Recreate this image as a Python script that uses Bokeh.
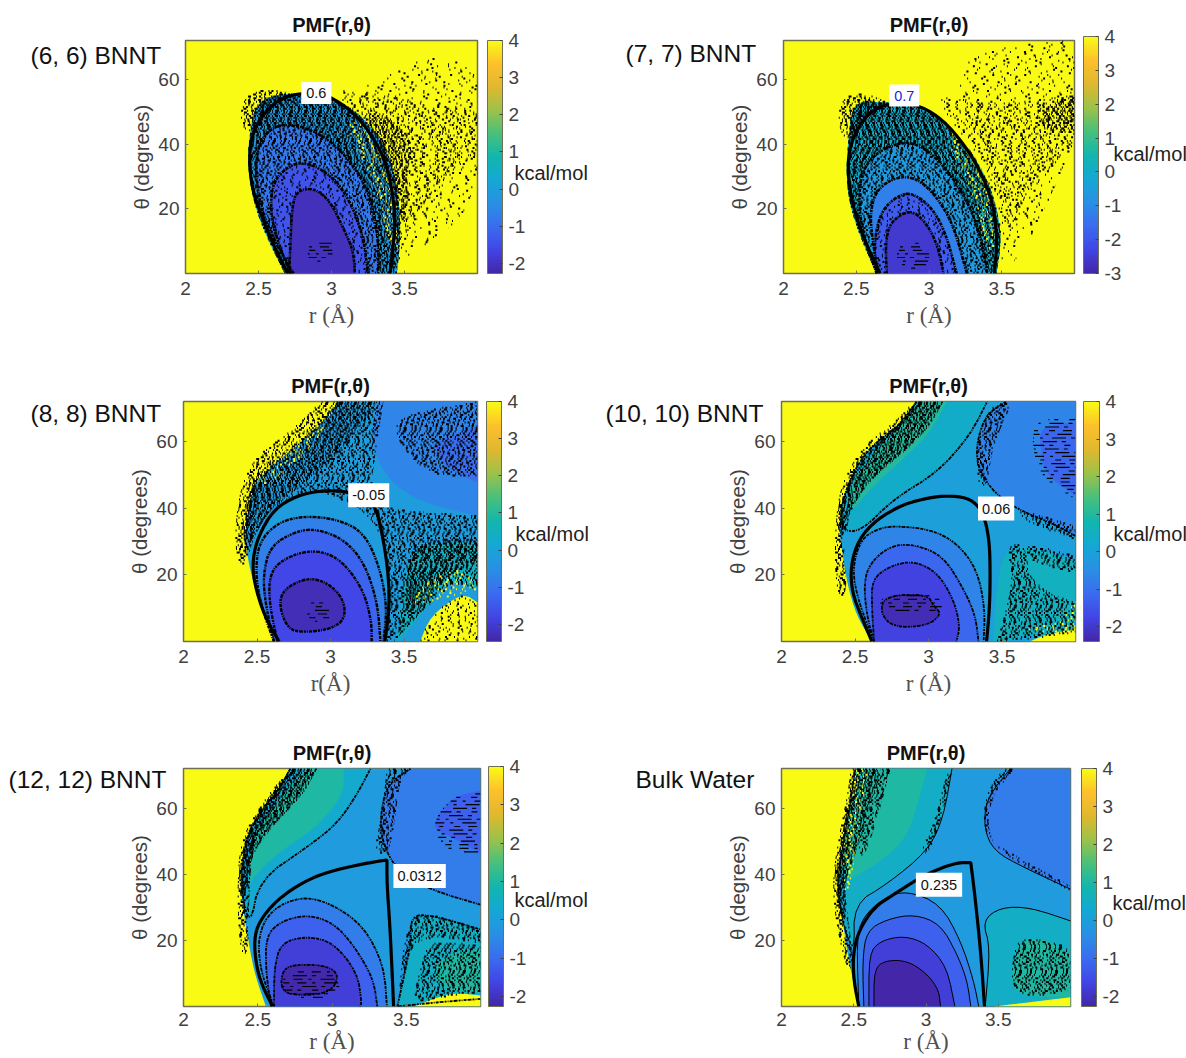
from bokeh.embed import file_html
from bokeh.resources import INLINE
from bokeh.plotting import figure
from bokeh.layouts import column, row
from bokeh.models import (ColorBar, ColumnDataSource, FixedTicker, Label, LinearColorMapper,
                          Range1d)
from bokeh.core.properties import value
from bokeh.transform import transform
import numpy as np

# ---------- shared ticks ----------
R_TICKS = [2, 2.5, 3, 3.5]
T_TICKS = [20, 40, 60]
CB_TICKS = [-3, -2, -1, 0, 1, 2, 3, 4]

# ---------- page texts outside the plot frames ----------
PANEL_NAMES = ["(6, 6) BNNT", "(7, 7) BNNT", "(8, 8) BNNT", "(10, 10) BNNT", "(12, 12) BNNT", "Bulk Water"]
NAME_X = [30, 625, 30, 605, 8, 635]
NAME_Y = [55, 53, 413, 413, 779, 779]
UNIT_X = [514, 1113, 515, 1113, 514, 1112]
UNIT_Y = [172, 153, 533, 533, 899, 902]

# ---------- panel 1: (6, 6) BNNT ----------
P1_LEVELS = [-0.1, -0.8, -1.4, -2.05]
P1_NO_LINE = [0]
P1_R = [[2.68, 2.58, 2.50, 2.445, 2.425, 2.44, 2.47, 2.57, 2.764, 2.99, 3.174, 3.334, 3.425, 3.47, 3.47, 3.448],
        [2.74, 2.60, 2.51, 2.48, 2.50, 2.60, 2.76, 2.97, 3.15, 3.27, 3.32, 3.32],
        [2.72, 2.63, 2.58, 2.60, 2.72, 2.83, 2.99, 3.13, 3.22, 3.25],
        [2.71, 2.72, 2.73, 2.76, 2.88, 2.99, 3.08, 3.15, 3.16]]
P1_T = [[0, 9, 17.3, 26.5, 35.8, 43, 51.2, 54.8, 55.9, 54.3, 50.2, 42, 32.7, 19.3, 9, 0],
        [0, 11, 21, 31.7, 40, 45.6, 46, 42, 33.7, 23.5, 11, 0],
        [0, 10, 19.3, 28.6, 33.7, 34.3, 30.7, 22.4, 11, 0],
        [0, 11, 20.4, 25.5, 26.5, 22.4, 14.2, 7, 0]]
P1_CONT_R = [2.70, 2.60, 2.525, 2.455, 2.435, 2.455, 2.525, 2.63, 2.76, 2.90, 3.015, 3.17, 3.29, 3.38, 3.435, 3.43, 3.40]
P1_CONT_T = [0, 9, 17.2, 26.4, 35.6, 42.8, 48.9, 53.5, 55.6, 55.6, 54.2, 48.9, 41.8, 33.6, 20.3, 11, 0]
P1_SPECK = [
    ("rare", "black", [([3.11, 3.45, 3.79, 4, 4, 3.90, 3.68, 3.52, 3.45, 3.42], [54.3, 63.6, 67.7, 61.5, 29.6, 17.3, 10, 3.9, 2.9, 29.6])]),
    ("sparse", "black", [([2.99, 3.33, 3.68, 4, 4, 3.79, 3.63, 3.49, 3.45, 3.42, 3.22], [57.4, 55.4, 52.3, 50.2, 35.8, 29.6, 19.3, 11.1, 9, 29.6, 47.1])]),
    ("medium", "black", [([3.17, 3.45, 3.56, 3.52, 3.52, 3.45, 3.42, 3.33], [51.2, 47.1, 39.9, 29.6, 17.3, 15.2, 32.7, 42])]),
    ("medium", "black", [([2.50, 2.40, 2.37, 2.42, 2.52, 2.68, 2.72, 2.55], [44, 44, 50, 55, 57, 56.5, 54, 50])]),
    ("dense", "black", [0, 1]),
    ("medium", "black", [1, 2]),
    ("sparse", "black", [2, 3]),
    ("streak", "black", [([2.83, 3.0, 3.02, 2.85], [3.5, 3.5, 10.5, 10.5])]),
    ("sparse", "#f9fb15", [([3.17, 3.33, 3.44, 3.47, 3.42, 3.30, 3.1], [50, 40, 25, 10, 5, 28, 44])]),
]

# ---------- panel 2: (7, 7) BNNT ----------
P2_LEVELS = [0.0, -0.6, -1.2, -1.9, -2.55]
P2_NO_LINE = [0]
P2_R = [[2.64, 2.53, 2.45, 2.43, 2.445, 2.47, 2.56, 2.64, 2.82, 3.0, 3.235, 3.37, 3.46, 3.50, 3.465],
        [2.64, 2.55, 2.515, 2.54, 2.66, 2.87, 3.05, 3.235, 3.35, 3.40],
        [2.65, 2.61, 2.595, 2.64, 2.78, 2.915, 3.05, 3.17, 3.26],
        [2.64, 2.62, 2.665, 2.78, 2.89, 3.03, 3.12, 3.19],
        [2.71, 2.70, 2.73, 2.87, 2.98, 3.06, 3.10]]
P2_T = [[0, 10.8, 21.9, 32, 41.2, 51.4, 53.4, 52.9, 52.9, 50.4, 41.2, 32, 21.9, 10.8, 0],
        [0, 11.8, 21.9, 32, 38.2, 41.2, 36.1, 25, 12.8, 0],
        [0, 10.8, 18.9, 26, 30, 29.5, 24, 14.8, 0],
        [0, 8.7, 18.9, 24, 25, 19.9, 11.8, 0],
        [0, 8.7, 15.8, 19.9, 15.8, 8.7, 0]]
P2_CONT_R = [2.664, 2.55, 2.47, 2.44, 2.46, 2.54, 2.64, 2.78, 2.94, 3.10, 3.235, 3.35, 3.44, 3.47, 3.45]
P2_CONT_T = [0, 10.8, 21.9, 32, 40.2, 47.3, 51.4, 52.7, 51.9, 47.3, 40.2, 32, 21.9, 10.8, 0]
P2_SPECK = [
    ("rare", "black", [([3.19, 3.69, 4, 4, 3.76, 3.58, 3.49, 3.46, 3.235], [65.6, 71.7, 72, 41.2, 15.8, 2.6, 2.6, 21.9, 51.4])]),
    ("sparse", "black", [([3.01, 3.46, 4, 4, 3.69, 3.58, 3.5, 3.44, 3.235], [56.4, 51.4, 55.4, 39.2, 27, 12.8, 16.9, 31, 42.2])]),
    ("medium", "black", [([3.74, 4, 4, 3.785], [50.4, 55.4, 43.2, 44.3])]),
    ("medium", "black", [([2.50, 2.40, 2.37, 2.43, 2.55, 2.68, 2.72, 2.55], [42, 42, 50, 55, 55.5, 54, 52, 48])]),
    ("dense", "black", [0, 1]),
    ("medium", "black", [1, 2]),
    ("sparse", "black", [3, 4]),
    ("streak", "black", [([2.78, 3.0, 3.0, 2.78], [1.5, 1.5, 9.5, 9.5])]),
    ("sparse", "#f9fb15", [([3.2, 3.35, 3.46, 3.48, 3.42, 3.30, 3.1], [44, 34, 22, 8, 4, 26, 42])]),
]

# ---------- panel 3: (8, 8) BNNT ----------
P3_LEVELS = [-0.2, 0.45, -0.7, -1.1, 4.0, -0.8, -1.3, -1.8, -2.3]
P3_NO_LINE = [0, 1, 2, 3, 4]
P3_R = [[2.65, 2.55, 2.46, 2.42, 2.43, 2.50, 2.72, 2.92, 3.05, 4, 4, 3.60],
        [3.45, 3.52, 3.68, 4, 4, 3.81, 3.68, 3.50],
        [3.32, 4, 4, 3.61, 3.36, 3.27],
        [3.68, 4, 4, 3.79],
        [3.61, 3.68, 3.90, 4, 4],
        [2.615, 2.535, 2.49, 2.51, 2.64, 2.82, 3.045, 3.23, 3.34, 3.385, 3.36],
        [2.615, 2.56, 2.54, 2.59, 2.77, 2.91, 3.09, 3.23, 3.32, 3.34],
        [2.64, 2.59, 2.58, 2.64, 2.82, 2.98, 3.11, 3.23, 3.28, 3.28],
        [2.71, 2.65, 2.68, 2.84, 2.98, 3.09, 3.10, 3.0, 2.82]]
P3_T = [[0, 7.7, 19.7, 29.7, 37.7, 49.7, 56.7, 64.7, 72, 72, 0, 0],
        [0, 25.7, 29.7, 29.7, 15.7, 18.7, 11.7, 1.7],
        [72, 72, 37.7, 41.7, 49.7, 61.7],
        [59.7, 64.7, 47.7, 51.7],
        [0, 7.7, 14.7, 11.7, 0],
        [0, 9.7, 19.7, 29.7, 35.7, 37.7, 36.7, 32.7, 21.7, 9.7, 0],
        [0, 10.7, 19.7, 28.7, 33.2, 33.7, 30.7, 23.7, 11.7, 0],
        [0, 9.7, 18.7, 23.7, 27.2, 26.7, 22.7, 14.7, 5.7, 0],
        [3.7, 10.7, 15.7, 19.2, 17.7, 12.7, 6.7, 3.7, 2.7]]
P3_CONT_R = [2.65, 2.55, 2.48, 2.47, 2.51, 2.615, 2.77, 2.92, 3.11, 3.3, 3.36, 3.395, 3.40, 3.37]
P3_CONT_T = [0, 7.7, 17.7, 24.7, 31.7, 39.7, 43.7, 45.2, 45.2, 42, 30.7, 19.7, 9.7, 0]
P3_SPECK = [
    ("medium", "black", [([2.59, 2.73, 3.0, 3.20, 3.32, 3.36, 3.27, 3.32, 4, 4, 3.79, 3.61, 3.45, 3.385, 3.40, 3.36, 3.23, 2.93, 2.77],
                          [39.7, 44.7, 53.7, 64.7, 72, 72, 46.7, 39.7, 37.7, 23.7, 19.7, 9.7, 1.7, 0, 19.7, 30.7, 39.7, 45.2, 43.7])]),
    ("dense", "black", [([2.40, 2.46, 2.72, 2.92, 3.05, 3.32, 3.20, 3.0, 2.73, 2.59, 2.48, 2.43],
                         [32.7, 49.7, 57.7, 65.7, 72, 72, 64.7, 53.7, 44.7, 39.7, 31.7, 23.7])]),
    ("medium", "black", [([2.34, 2.38, 2.50, 2.70, 2.85, 2.93, 3.1, 2.82, 2.56, 2.44, 2.42], [28, 46, 56, 62, 68, 72, 72, 62, 52, 34, 20])]),
    ("medium", "black", [([3.43, 3.52, 3.52, 3.68, 4, 4, 3.86, 3.68], [0, 9.7, 26.7, 30.7, 30.7, 15.7, 17.7, 11.7])]),
    ("medium", "black", [([3.45, 4, 4, 3.68, 3.45], [67.7, 72, 49.7, 49.7, 59.7])]),
    ("sparse", "black", [([3.61, 3.68, 3.90, 4, 4], [0, 7.7, 14.7, 11.7, 0])]),
    ("sparse", "#f9fb15", [([3.52, 3.68, 3.90, 4, 3.90], [9.7, 19.7, 22.7, 15.7, 14.7])]),
    ("sparse", "#f9fb15", [([2.46, 2.86, 3.05, 2.91, 2.55], [49.7, 65.7, 72, 59.7, 45.7])]),
    ("streak", "black", [([2.84, 3.0, 3.0, 2.84], [6, 6, 12, 12])]),
]

# ---------- panel 4: (10, 10) BNNT ----------
P4_LEVELS = [-0.1, 0.35, 1.0, -0.7, -1.2, 0.5, 4.0, -0.7, -1.2, -1.8, -2.25]
P4_NO_LINE = [0, 2, 4, 5, 6]
P4_R = [[2.615, 2.51, 2.445, 2.41, 2.39, 2.43, 2.58, 2.80, 2.92, 4, 4],
        [2.535, 2.76, 3.06, 3.28, 3.40, 2.92, 2.80, 2.58, 2.43, 2.39],
        [2.455, 2.455, 2.65, 2.83, 2.94, 3.125, 3.01, 2.85, 2.60],
        [3.53, 4, 4, 3.83, 3.60, 3.42, 3.31, 3.375],
        [3.76, 4, 4, 3.80, 3.76],
        [3.44, 3.465, 3.53, 3.76, 4, 4, 3.69, 3.51],
        [3.69, 3.80, 4, 4],
        [2.63, 2.525, 2.48, 2.54, 2.65, 2.76, 3.01, 3.19, 3.33, 3.385, 3.375],
        [2.63, 2.58, 2.56, 2.605, 2.74, 2.90, 3.10, 3.24, 3.32, 3.34],
        [2.63, 2.615, 2.615, 2.74, 2.90, 3.06, 3.17, 3.215, 3.19],
        [2.67, 2.705, 2.99, 3.035, 3.09, 2.99, 2.76]]
P4_T = [[0, 7.7, 17.7, 27.7, 33.7, 45.7, 57.7, 64.7, 72, 72, 0],
        [32.7, 42.7, 50.7, 61.7, 72, 72, 64.7, 57.7, 45.7, 33.7],
        [37.7, 46.7, 57.7, 65.7, 72, 72, 62.7, 55.7, 45.7],
        [72, 72, 31.7, 35.7, 39.7, 45.7, 54.7, 67.7],
        [64.7, 65.7, 43.7, 49.7, 57.7],
        [0, 17.7, 28.7, 27.7, 23.7, 1.7, 1.7, 0],
        [0, 2.2, 3.7, 0],
        [0, 11.7, 21.7, 30.7, 33.7, 34.7, 33.7, 29.7, 21.7, 9.7, 0],
        [0, 7.7, 17.7, 23.7, 28.7, 29.2, 25.7, 15.7, 7.7, 0],
        [0, 9.7, 18.7, 22.7, 24.2, 20.7, 12.7, 4.7, 0],
        [8.7, 13.7, 14.2, 10.7, 8.2, 4.7, 4.2]]
P4_CONT_R = [2.615, 2.55, 2.48, 2.47, 2.525, 2.65, 2.83, 3.01, 3.125, 3.26, 3.34, 3.385, 3.415, 3.42, 3.415, 3.395]
P4_CONT_T = [0, 6.7, 14.7, 22.7, 30.7, 36.7, 41.2, 43.2, 43.7, 43.2, 40.7, 36.7, 29.7, 19.7, 9.7, 0]
P4_SPECK = [
    ("dense", "black", [([2.37, 2.42, 2.605, 2.81, 2.92, 3.10, 3.01, 2.83, 2.605, 2.47, 2.435],
                         [33.7, 45.7, 57.7, 65.7, 72, 72, 64.7, 56.7, 48.7, 39.7, 31.7])]),
    ("medium", "black", [([2.37, 2.36, 2.40, 2.56, 2.78, 2.90, 2.98, 2.80, 2.58, 2.43, 2.42, 2.45], [14, 33, 47, 59, 66, 72, 72, 64, 56, 44, 30, 14])]),
    ("medium", "black", [([3.33, 3.44, 3.58, 3.44, 3.40, 3.33], [61.7, 71.7, 71.7, 59.7, 46.7, 46.7])]),
    ("medium", "black", [([3.58, 4, 4, 3.69], [40.2, 34.7, 30.7, 35.2])]),
    ("medium", "black", [([3.465, 3.58, 3.53, 3.65, 3.69, 3.80, 4, 4, 3.69], [0, 17.7, 28.7, 29.7, 19.7, 14.7, 11.7, 2.7, 0.7])]),
    ("medium", "black", [([3.65, 4, 4, 3.69], [29.7, 25.7, 20.7, 23.7])]),
    ("streak", "black", [([3.69, 4, 4, 3.74], [66.7, 66.7, 42.7, 49.7])]),
    ("streak", "black", [([2.67, 3.09, 3.09, 2.67], [8.7, 8.2, 14.2, 14.2])]),
    ("sparse", "#f9fb15", [([3.6, 4, 4, 3.9], [3, 3, 12, 6])]),
]

# ---------- panel 5: (12, 12) BNNT ----------
P5_LEVELS = [-0.1, 0.35, 1.0, -0.7, -1.2, 0.5, 1.0, 4.0, -0.7, -1.2, -1.75, -2.2]
P5_NO_LINE = [0, 2, 4, 6, 7]
P5_R = [[2.555, 2.475, 2.42, 2.385, 2.41, 2.54, 2.65, 2.72, 4, 4],
        [2.45, 2.51, 2.835, 3.035, 3.17, 3.26, 2.72, 2.65, 2.54, 2.41, 2.385],
        [2.44, 2.44, 2.59, 2.77, 2.83, 3.08, 3.08, 2.90, 2.63, 2.475],
        [3.53, 4, 4, 3.66, 3.44, 3.35, 3.32, 3.37],
        [3.80, 4, 4, 3.80, 3.66],
        [3.44, 3.53, 3.53, 3.66, 4, 4, 3.71],
        [3.66, 3.80, 4, 4, 3.78],
        [3.55, 3.80, 4, 4],
        [2.61, 2.52, 2.50, 2.59, 2.79, 2.99, 3.215, 3.35, 3.37],
        [2.59, 2.555, 2.555, 2.655, 2.835, 3.01, 3.15, 3.28, 3.305],
        [2.61, 2.61, 2.655, 2.835, 3.01, 3.17, 3.20, 3.19],
        [2.655, 2.665, 2.77, 2.97, 3.05, 2.99, 2.81]]
P5_T = [[0, 10.3, 24.3, 34.3, 50.3, 60.3, 66.3, 72, 72, 0],
        [24.3, 38.3, 48.3, 55.3, 64.3, 72, 72, 66.3, 60.3, 50.3, 34.3],
        [36.3, 50.3, 59.3, 69.3, 72, 72, 64.3, 54.3, 46.3, 39.3],
        [72, 72, 30.8, 35.3, 41.3, 48.3, 56.3, 67.3],
        [63.3, 65.3, 46.3, 51.3, 54.3],
        [0, 18.3, 27.3, 27.8, 23.3, 2.3, 1.3],
        [10.3, 16.3, 17.3, 4.3, 4.3],
        [0, 4.3, 3.3, 0],
        [0, 10.3, 21.3, 29.3, 33.3, 31.3, 24.3, 12.3, 0],
        [0, 10.3, 21.3, 25.8, 27.8, 25.3, 18.3, 8.3, 0],
        [0, 11.3, 19.3, 21.3, 19.3, 10.3, 1.3, 0],
        [4.3, 11.3, 12.8, 12.3, 9.3, 4.3, 3.3]]
P5_CONT_R = [2.60, 2.53, 2.49, 2.475, 2.51, 2.63, 2.81, 2.98, 3.17, 3.33, 3.37, 3.37, 3.37, 3.39, 3.405, 3.415]
P5_CONT_T = [0, 6.3, 12.3, 20.3, 25.8, 32.3, 37.8, 40.8, 42.8, 44.1, 44.3, 44.3, 37.3, 24.3, 10.3, 0]
P5_SPECK = [
    ("dense", "black", [([2.365, 2.40, 2.54, 2.72, 2.90, 2.81, 2.59, 2.45, 2.42],
                         [34.3, 50.3, 61.3, 72, 72, 64.3, 54.3, 45.3, 32.3])]),
    ("medium", "black", [([2.38, 2.36, 2.38, 2.52, 2.66, 2.76, 2.62, 2.47, 2.44, 2.44], [16, 34, 50, 61, 69, 72, 62, 50, 34, 16])]),
    ("medium", "black", [([3.33, 3.28, 3.37, 3.42, 3.46, 3.57, 3.37], [56.3, 47.3, 45.3, 54.3, 70.3, 72, 72])]),
    ("streak", "black", [([3.66, 3.80, 4, 4, 3.80], [54.3, 63.3, 65.3, 46.3, 46.3])]),
    ("medium", "black", [([3.53, 3.60, 3.66, 4, 4, 3.78], [0.3, 12.3, 20.3, 18.3, 4.3, 3.3])]),
    ("medium", "black", [([3.505, 3.71, 4, 4, 3.66, 3.53, 3.48, 3.44], [27.3, 27.8, 23.3, 19.3, 21.3, 18.3, 8.3, 0.3])]),
    ("streak", "black", [([2.665, 3.05, 3.05, 2.665], [2.5, 2.5, 11.5, 11.5])]),
]

# ---------- panel 6: Bulk Water ----------
P6_LEVELS = [-0.1, 0.5, 1.0, -0.7, 0.5, 1.0, 4.0, -0.7, -1.2, -1.75, -2.3]
P6_NO_LINE = [0, 2, 5, 6]
P6_R = [[2.535, 2.465, 2.43, 2.38, 2.43, 2.49, 2.51, 4, 4],
        [2.505, 2.50, 2.73, 3.01, 3.12, 3.18, 2.51, 2.49, 2.43, 2.38, 2.43],
        [2.41, 2.66, 2.87, 2.96, 3.01, 2.52, 2.49, 2.42],
        [3.585, 4, 4, 3.68, 3.47, 3.40, 3.42],
        [3.41, 3.445, 3.39, 3.515, 3.72, 4, 4],
        [3.585, 3.61, 3.68, 3.86, 4, 4, 3.72],
        [3.47, 3.72, 4, 4],
        [2.535, 2.52, 2.56, 2.71, 2.87, 3.10, 3.24, 3.33, 3.365],
        [2.57, 2.56, 2.59, 2.73, 2.92, 3.10, 3.215, 3.285, 3.31],
        [2.605, 2.605, 2.685, 2.85, 3.01, 3.145, 3.20],
        [2.64, 2.64, 2.71, 2.87, 3.01, 3.09, 3.10]]
P6_T = [[0, 13.9, 23.9, 37, 50, 65.1, 72, 72, 0],
        [15.9, 31, 37, 47, 57, 72, 72, 65.1, 50, 37, 23.9],
        [37, 43, 51, 64.1, 72, 72, 65.1, 50],
        [72, 72, 35.5, 42, 47, 54.1, 63.1],
        [0, 17.9, 25.9, 30, 30, 25.9, 0],
        [5.8, 14.9, 20.9, 19.9, 15.9, 2.8, 2.8],
        [0, 1.3, 2.8, 0],
        [0, 19.9, 26.9, 33, 35, 31, 19.9, 7.8, 0],
        [0, 13.9, 22.9, 26.4, 27.9, 24.9, 15.9, 7.8, 0],
        [0, 15.9, 19.9, 21.4, 18.9, 11.9, 0],
        [0, 10.9, 13.9, 13.9, 9.8, 4.8, 0]]
P6_CONT_R = [2.535, 2.50, 2.495, 2.535, 2.64, 2.78, 2.94, 3.08, 3.215, 3.31, 3.31, 3.34, 3.38, 3.405]
P6_CONT_T = [0, 7.8, 15.9, 23, 30, 34, 38.5, 41.5, 43.5, 43.5, 43.5, 33, 15.9, 0]
P6_SPECK = [
    ("dense", "black", [([2.36, 2.41, 2.48, 2.51, 2.685, 2.615, 2.52, 2.43, 2.44], [37, 50, 65.1, 72, 72, 60.1, 47, 37, 23.9])]),
    ("medium", "black", [([2.46, 2.38, 2.35, 2.39, 2.46, 2.48, 2.56, 2.50, 2.45, 2.43, 2.50], [10, 24, 37, 50, 65, 72, 72, 60, 50, 37, 14])]),
    ("sparse", "#f9fb15", [([2.42, 2.52, 2.60, 2.52, 2.44], [50, 72, 72, 47, 30])]),
    ("medium", "black", [([2.52, 2.615, 2.685, 2.755, 2.66, 2.57], [47, 60.1, 72, 72, 56, 45])]),
    ("medium", "black", [([3.145, 3.19, 3.08, 3.01, 2.96, 3.055], [71.2, 71.2, 53, 46, 47, 55])]),
    ("medium", "black", [([3.54, 3.63, 3.47, 3.42, 3.49, 4, 4, 3.47, 3.39, 3.42], [72, 72, 65.1, 55, 47, 35, 36.5, 49, 55, 65.1])]),
    ("medium", "black", [([3.585, 3.61, 3.68, 3.95, 4, 4, 3.72], [5.8, 17.9, 20.9, 18.9, 15.9, 4.8, 2.8])]),
]

TICK_GRAY = "#404040"
FRAME_GRAY = "#6f6f55"
PARULA_ANCHORS = ["#4327a8", "#4245e6", "#3a6cf0", "#2a90e4", "#14a8d4", "#12b6ae",
                  "#48c07c", "#9cc24a", "#e0b82f", "#fdc02c", "#f9fb15"]
DASH = {"dense": "1 1 2 2 1 2 3 1 1 3 2 1 1 2 4 2", "medium": "1 2 2 4 1 3 3 5 1 2 2 3 1 6",
        "sparse": "1 6 2 9 1 5 1 11 2 7 1 14", "rare": "1 13 2 21 1 10 1 27 2 16",
        "streak": "9 6 3 9 14 5 4 11 6 8"}
STEP = {"streak": 1.1}
WIDTH = {"streak": 1.2}


def parula(n=256):
    rgb = np.array([[int(c[i:i + 2], 16) for i in (1, 3, 5)] for c in PARULA_ANCHORS], float)
    xs = np.linspace(0, 1, len(PARULA_ANCHORS))
    t = np.linspace(0, 1, n)
    return ["#%02x%02x%02x" % tuple(int(round(np.interp(v, xs, rgb[:, k]))) for k in range(3)) for v in t]


PAL = parula()


def on_frame(r, t):
    return r == 4 or t == 0 or t == 72


def smooth_closed(rr, tt, rounds=2):
    """Round the drawn polygon's corners; vertices on the frame stay put."""
    pts = list(zip(rr, tt))
    for _ in range(rounds):
        out = []
        n = len(pts)
        for k in range(n):
            a, b, c = pts[k - 1], pts[k], pts[(k + 1) % n]
            if on_frame(*b):
                out.append(b)
            else:
                out.append((b[0] * .75 + a[0] * .25, b[1] * .75 + a[1] * .25))
                out.append((b[0] * .75 + c[0] * .25, b[1] * .75 + c[1] * .25))
        pts = out
    return [p[0] for p in pts], [p[1] for p in pts]


def smooth_open(rr, tt, rounds=2):
    pts = list(zip(rr, tt))
    for _ in range(rounds):
        out = [pts[0]]
        for k in range(1, len(pts) - 1):
            a, b, c = pts[k - 1], pts[k], pts[k + 1]
            out.append((b[0] * .75 + a[0] * .25, b[1] * .75 + a[1] * .25))
            out.append((b[0] * .75 + c[0] * .25, b[1] * .75 + c[1] * .25))
        out.append(pts[-1])
        pts = out
    return [p[0] for p in pts], [p[1] for p in pts]


def scan(polys, layers_r, layers_t, step=0.55):
    rings = []
    for q in polys:
        rings.append((layers_r[q], layers_t[q]) if isinstance(q, int) else smooth_closed(*q))
    xs, ys, off = [], [], []
    for i, th in enumerate(np.arange(step / 2, 72, step)):
        cross = []
        for rr, tt in rings:
            n = len(rr)
            for k in range(n):
                r1, t1, r2, t2 = rr[k], tt[k], rr[(k + 1) % n], tt[(k + 1) % n]
                if (t1 <= th < t2) or (t2 <= th < t1):
                    cross.append(r1 + (th - t1) / (t2 - t1) * (r2 - r1))
        cross.sort()
        for j in range(0, len(cross) - 1, 2):
            xs.append([cross[j], cross[j + 1]])
            ys.append([float(th), float(th)])
            off.append((i * i * 13 + i * 29 + j * 7) % 97)
    return xs, ys, off


def outline(rr, tt):
    xs, ys = [], []
    n = len(rr)
    cx, cy = [], []
    for k in range(n):
        r1, t1, r2, t2 = rr[k], tt[k], rr[(k + 1) % n], tt[(k + 1) % n]
        skip = (t1 == t2 and t1 in (0, 72)) or (r1 == r2 == 4)
        if skip:
            if cx:
                xs.append(cx)
                ys.append(cy)
            cx, cy = [], []
            continue
        if not cx:
            cx, cy = [r1], [t1]
        cx.append(r2)
        cy.append(t2)
    if cx:
        xs.append(cx)
        ys.append(cy)
    return xs, ys


def panel(box, cb, col_x, row_y, W, H, low, levels, rr, tt, no_line, cont_r, cont_t, speck,
          xlabel, clab, clab_color, line_dash, line_w, tick_off=8, label_off=5):
    fl, ft, fr, fb = box
    mapper = LinearColorMapper(palette=PAL, low=low, high=4)
    p = figure(width=W, height=H, output_backend="svg", toolbar_location=None,
               x_range=Range1d(2, 4), y_range=Range1d(0, 72),
               min_border_left=fl - col_x, min_border_right=col_x + W - fr,
               min_border_top=ft - row_y, min_border_bottom=row_y + H - fb,
               background_fill_color="#f9fb15", border_fill_color=None,
               x_axis_label=xlabel, y_axis_label="θ (degrees)")
    p.title.text = "PMF(r,θ)"
    p.title.align = "center"
    p.title.text_font = "Liberation Sans"
    p.title.text_font_size = "20px"
    p.title.text_color = "#111111"
    p.title.standoff = 10
    p.grid.visible = False
    p.outline_line_color = FRAME_GRAY
    p.outline_line_width = 1.5
    for ax, ticks in ((p.xaxis[0], R_TICKS), (p.yaxis[0], T_TICKS)):
        ax.ticker = FixedTicker(ticks=ticks)
        ax.axis_line_color = None
        ax.major_tick_line_color = FRAME_GRAY
        ax.major_tick_in = 3
        ax.major_tick_out = 0
        ax.minor_tick_line_color = None
        ax.major_label_text_font = "Liberation Sans"
        ax.major_label_text_font_size = "19px"
        ax.major_label_text_color = TICK_GRAY
    p.xaxis[0].major_label_standoff = tick_off
    p.yaxis[0].major_label_standoff = 6
    p.xaxis[0].axis_label_text_font = "Liberation Serif"
    p.xaxis[0].axis_label_text_font_style = "normal"
    p.xaxis[0].axis_label_text_font_size = "23px"
    p.xaxis[0].axis_label_text_color = "#505050"
    p.xaxis[0].axis_label_standoff = label_off
    p.yaxis[0].axis_label_text_font = "Liberation Sans"
    p.yaxis[0].axis_label_text_font_style = "normal"
    p.yaxis[0].axis_label_text_font_size = "20.5px"
    p.yaxis[0].axis_label_text_color = TICK_GRAY
    p.yaxis[0].axis_label_standoff = 2

    smooth = [smooth_closed(a, b) for a, b in zip(rr, tt)]
    sr = [s[0] for s in smooth]
    st = [s[1] for s in smooth]
    src = ColumnDataSource(dict(xs=sr, ys=st, level=levels))
    p.patches("xs", "ys", source=src, fill_color=transform("level", mapper), line_color=None)

    for density, color, polys in speck:
        xs, ys, off = scan(polys, sr, st, STEP.get(density, 0.55))
        if xs:
            s = ColumnDataSource(dict(xs=xs, ys=ys, off=off))
            p.multi_line("xs", "ys", source=s, line_color=color, line_width=WIDTH.get(density, 2.0),
                         line_dash=DASH[density], line_dash_offset="off")

    ox, oy = [], []
    for idx, (a, b) in enumerate(zip(sr, st)):
        if idx in no_line:
            continue
        x, y = outline(a, b)
        ox += x
        oy += y
    p.multi_line(ox, oy, line_color="black", line_width=line_w, line_dash=line_dash)

    cr, ct = smooth_open(cont_r, cont_t)
    p.line(cr, ct, line_color="black", line_width=3.2)

    p.add_layout(Label(x=clab[1], y=clab[2], text=clab[0], text_font="Liberation Sans", text_font_size="14.5px",
                       text_color=clab_color, text_baseline="middle", text_align="center",
                       background_fill_color="white", padding=(clab[3], clab[4])))

    ticks = [t for t in CB_TICKS if t >= low]
    bar = ColorBar(color_mapper=mapper, ticker=FixedTicker(ticks=ticks),
                   major_label_overrides={t: str(t) for t in ticks},
                   location=(cb[0] - fl, 0), width=cb[1] - cb[0], height=fb - ft, margin=0, padding=0,
                   major_label_text_font="Liberation Sans", major_label_text_font_size="19px",
                   major_label_text_color=TICK_GRAY, label_standoff=6,
                   major_tick_line_color=TICK_GRAY, major_tick_in=3,
                   bar_line_color=FRAME_GRAY, border_line_color=None, background_fill_color=None)
    p.add_layout(bar)
    return p


SOLID = "solid"
NOISY = "3 1 1 1 2 1 4 1"
p1 = panel((185, 40, 477, 273), (487, 502), 0, 0, 600, 365, -2.27, P1_LEVELS, P1_R, P1_T, P1_NO_LINE, P1_CONT_R, P1_CONT_T, P1_SPECK,
           "r (Å)", ("0.6", 2.896, 55.8, 5, 6), "#111111", NOISY, 2.6)
p2 = panel((783, 37, 1074, 274), (1083, 1098), 600, 0, 586, 365, -3.0, P2_LEVELS, P2_R, P2_T, P2_NO_LINE, P2_CONT_R, P2_CONT_T, P2_SPECK,
           "r (Å)", ("0.7", 2.83, 55, 5, 6), "#2222dd", NOISY, 2.6)
p3 = panel((183, 401, 477, 641), (486, 501), 0, 365, 600, 365, -2.46, P3_LEVELS, P3_R, P3_T, P3_NO_LINE, P3_CONT_R, P3_CONT_T, P3_SPECK,
           "r(Å)", ("-0.05", 3.26, 43.9, 4, 7), "#111111", NOISY, 2.4)
p4 = panel((781, 401, 1075, 641), (1083, 1099), 600, 365, 586, 365, -2.4, P4_LEVELS, P4_R, P4_T, P4_NO_LINE, P4_CONT_R, P4_CONT_T, P4_SPECK,
           "r (Å)", ("0.06", 3.46, 39.9, 4, 7), "#111111", NOISY, 1.8)
p5 = panel((183, 768, 480, 1008), (488, 503), 0, 730, 600, 328, -2.26, P5_LEVELS, P5_R, P5_T, P5_NO_LINE, P5_CONT_R, P5_CONT_T, P5_SPECK,
           "r (Å)", ("0.0312", 3.59, 39.5, 4, 7), "#111111", NOISY, 1.8, tick_off=6, label_off=0)
p6 = panel((781, 768, 1070, 1006), (1081, 1096), 600, 730, 586, 328, -2.26, P6_LEVELS, P6_R, P6_T, P6_NO_LINE, P6_CONT_R, P6_CONT_T, P6_SPECK,
           "r (Å)", ("0.235", 3.09, 36.8, 5, 7), "#111111", SOLID, 1.0, tick_off=6, label_off=0)

# transparent sheet over the whole page for the texts that sit beside the frames
sheet = figure(width=1186, height=1058, output_backend="svg", toolbar_location=None,
               x_range=Range1d(0, 1186), y_range=Range1d(1058, 0), min_border=0,
               background_fill_color=None, border_fill_color=None, outline_line_color=None,
               margin=(-1058, 0, 0, 0))
sheet.axis.visible = False
sheet.grid.visible = False
sheet.text(NAME_X, NAME_Y, text=PANEL_NAMES, text_font=value("Liberation Sans"), text_font_size="24.5px",
           text_color="#111111", text_baseline="middle", text_align="left")
sheet.text(UNIT_X, UNIT_Y, text=["kcal/mol"] * len(UNIT_X), text_font=value("Liberation Sans"), text_font_size="20px",
           text_color="#222222", text_baseline="middle", text_align="left")

page = column(row(p1, p2), row(p3, p4), row(p5, p6), sheet)
open("out.html", "w").write(file_html(page, INLINE))
